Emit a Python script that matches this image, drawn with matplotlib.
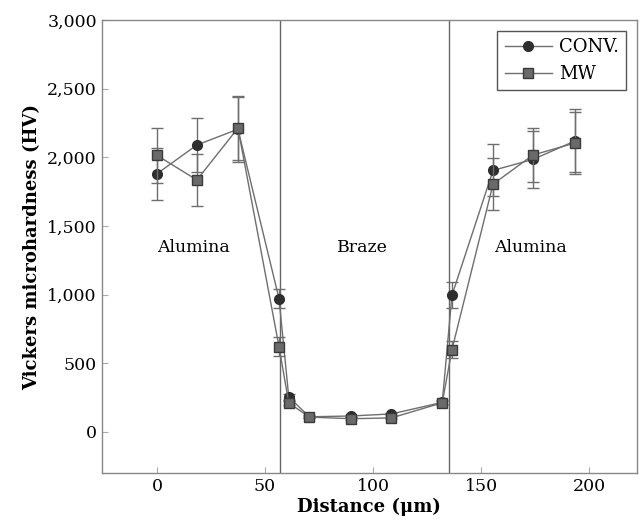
import matplotlib
matplotlib.use("Agg")
import matplotlib.pyplot as plt
from matplotlib.ticker import FuncFormatter
from matplotlib.lines import Line2D

x_conv = [0, 18.5, 37.5, 56.5, 61, 70.5, 90, 108.5, 132, 136.5, 155.5, 174, 193.5]
y_conv = [1880, 2090, 2205, 970, 255, 110, 116, 131, 215, 995, 1905, 1985, 2120]
e_conv = [190, 200, 240, 70, 20, 10, 10, 10, 15, 95, 190, 210, 230]

x_mw = [0, 18.5, 37.5, 56.5, 61, 70.5, 90, 108.5, 132, 136.5, 155.5, 174, 193.5]
y_mw = [2015, 1835, 2213, 620, 212, 108, 96, 102, 212, 600, 1805, 2017, 2105]
e_mw = [200, 190, 230, 70, 15, 10, 10, 10, 15, 65, 190, 200, 225]

interfaces = [57, 135]
regions = ["Alumina", "Braze", "Alumina"]
region_x = [17, 95, 173]
region_y = 1340

plt.rcParams['font.family'] = ['DejaVu Serif']
fig = plt.figure(figsize=(6.4, 5.28), dpi=100)
ax = fig.add_axes([0.159, 0.104, 0.836, 0.858])

line_c = '#6e6e6e'
conv_style = dict(marker='o', ms=7, mfc='#2e2e2e', mec='#2e2e2e')
mw_style = dict(marker='s', ms=7, mfc='#6a6a6a', mec='#3a3a3a')
ax.errorbar(x_conv, y_conv, yerr=e_conv, color=line_c, lw=1.0, capsize=4,
            elinewidth=1.0, capthick=1.0, zorder=3, **conv_style)
ax.errorbar(x_mw, y_mw, yerr=e_mw, color=line_c, lw=1.0, capsize=4,
            elinewidth=1.0, capthick=1.0, zorder=4, **mw_style)

for xi in interfaces:
    ax.axvline(xi, color='#666666', lw=1.0, zorder=1)

for t, xx in zip(regions, region_x):
    ax.text(xx, region_y, t, ha='center', va='center', fontsize=12.5)

ax.set_xlim(-25.5, 222)
ax.set_ylim(-300, 3000)
ax.set_xticks([0, 50, 100, 150, 200])
ax.set_yticks([0, 500, 1000, 1500, 2000, 2500, 3000])
ax.yaxis.set_major_formatter(FuncFormatter(lambda v, p: f"{int(v):,}"))
ax.tick_params(direction='in', length=4, color='#aaaaaa', labelsize=12.5)
for s in ax.spines.values():
    s.set_color('#888888')
    s.set_linewidth(1.0)

ax.set_xlabel('Distance (μm)', fontsize=13, fontweight='bold', labelpad=2)
ax.set_ylabel('Vickers microhardness (HV)', fontsize=13, fontweight='bold')

handles = [Line2D([], [], color=line_c, lw=1.0, **conv_style),
           Line2D([], [], color=line_c, lw=1.0, **mw_style)]
leg = ax.legend(handles, ['CONV.', 'MW'], loc='upper right', fontsize=13,
                fancybox=False, framealpha=1, edgecolor='#555555',
                handlelength=2.6, borderaxespad=0.6, handletextpad=0.4)
leg.get_frame().set_linewidth(1.0)

fig.savefig('out.png', dpi=100)
